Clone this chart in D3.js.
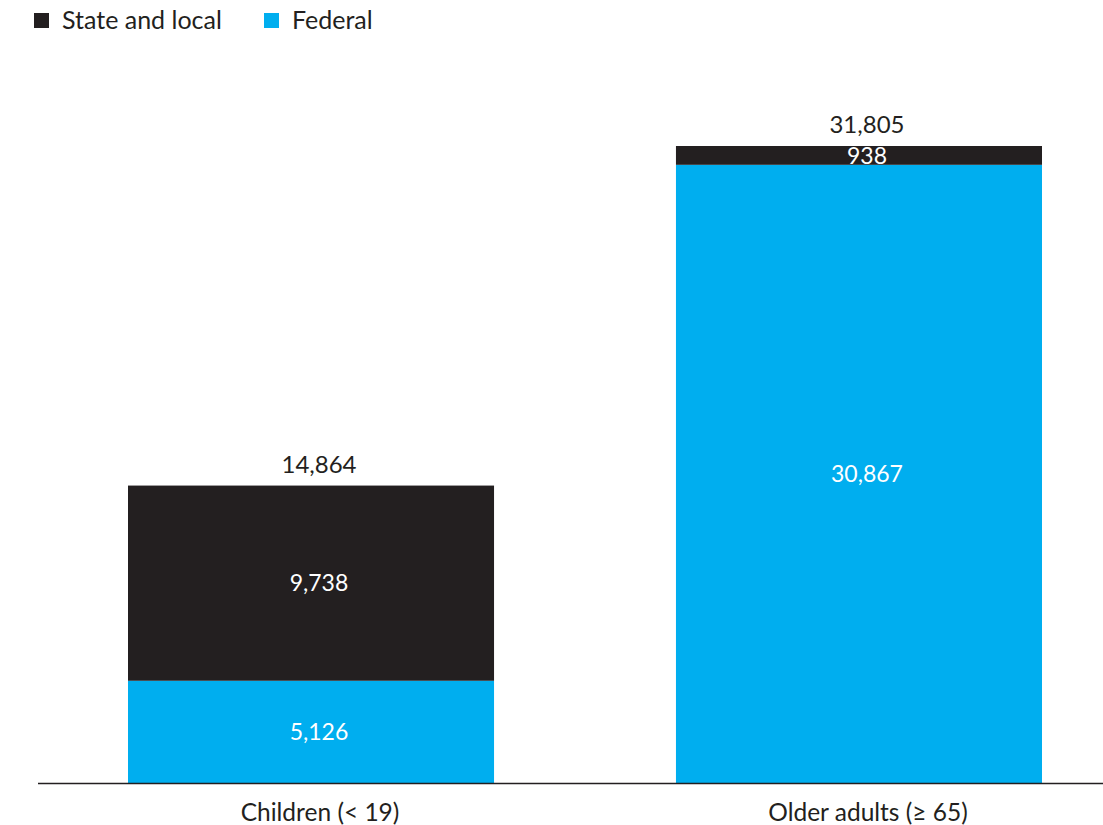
<!DOCTYPE html>
<html>
<head>
<meta charset="utf-8">
<script src="https://cdn.jsdelivr.net/npm/d3@7"></script>
<style>
  html, body { margin: 0; padding: 0; background: #fff; }
  svg { display: block; font-family: Lato, "Open Sans", sans-serif; }
</style>
</head>
<body>
<svg id="chart" width="1103" height="825"></svg>
<script>
// Spending by age group, split by funding source
const categories = ["Children (< 19)", "Older adults (\u2265 65)"];
const seriesNames = ["Federal", "State and local"];
const federal = [5126, 30867];
const stateLocal = [9738, 938];
const totals = [14864, 31805];

const colors = { "Federal": "#00aeef", "State and local": "#231f20" };

const svg = d3.select("#chart");
const fmt = d3.format(",");
const labelShift = 8; // text sits slightly right of the bar centre

const x = d3.scaleBand()
  .domain(categories)
  .range([128, 1042])
  .paddingInner(0.332)
  .paddingOuter(0);

const y = d3.scaleLinear()
  .domain([0, d3.max(totals)])
  .range([783.5, 146]);

const rows = categories.map((c, i) => ({
  category: c,
  "Federal": federal[i],
  "State and local": stateLocal[i],
  total: totals[i]
}));

const stacked = d3.stack().keys(seriesNames)(rows);

// stacked segments
const layer = svg.append("g").selectAll("g")
  .data(stacked)
  .join("g")
  .attr("fill", d => colors[d.key]);

layer.selectAll("rect")
  .data(d => d.map(s => ({ key: d.key, s })))
  .join("rect")
  .attr("x", d => x(d.s.data.category))
  .attr("width", x.bandwidth())
  .attr("y", d => y(d.s[1]))
  .attr("height", d => y(d.s[0]) - y(d.s[1]));

// values inside segments
layer.selectAll("text")
  .data(d => d.map(s => ({ key: d.key, s })))
  .join("text")
  .attr("x", d => x(d.s.data.category) + x.bandwidth() / 2 + labelShift)
  .attr("y", d => (y(d.s[0]) + y(d.s[1])) / 2)
  .attr("dy", "0.36em")
  .attr("text-anchor", "middle")
  .attr("fill", "#fff")
  .attr("font-size", 23)
  .text(d => fmt(d.s.data[d.key]));

// totals above bars
svg.append("g").selectAll("text")
  .data(rows)
  .join("text")
  .attr("x", d => x(d.category) + x.bandwidth() / 2 + labelShift)
  .attr("y", d => y(d.total) - 13)
  .attr("text-anchor", "middle")
  .attr("fill", "#231f20")
  .attr("font-size", 24)
  .text(d => fmt(d.total));

// baseline
svg.append("line")
  .attr("x1", 38).attr("x2", 1103)
  .attr("y1", y(0)).attr("y2", y(0))
  .attr("stroke", "#231f20")
  .attr("stroke-width", 1.5);

// category labels
const xAxis = d3.axisBottom(x).tickSize(0).tickPadding(0);
const gx = svg.append("g")
  .attr("transform", `translate(0,${y(0)})`)
  .call(xAxis);
gx.select(".domain").remove();
gx.selectAll("text")
  .attr("font-family", "Lato, 'Open Sans', sans-serif")
  .attr("font-size", 24.5)
  .attr("fill", "#231f20")
  .attr("dy", null)
  .attr("x", labelShift + 1)
  .attr("y", 37);

// legend
const legendItems = [
  { name: "State and local", x: 34 },
  { name: "Federal", x: 264 }
];
const legend = svg.append("g").selectAll("g")
  .data(legendItems)
  .join("g")
  .attr("transform", d => `translate(${d.x},13)`);
legend.append("rect")
  .attr("width", 15).attr("height", 15)
  .attr("fill", d => colors[d.name]);
legend.append("text")
  .attr("x", 28)
  .attr("y", 15.5)
  .attr("font-size", 25)
  .attr("fill", "#231f20")
  .text(d => d.name);
</script>
</body>
</html>
